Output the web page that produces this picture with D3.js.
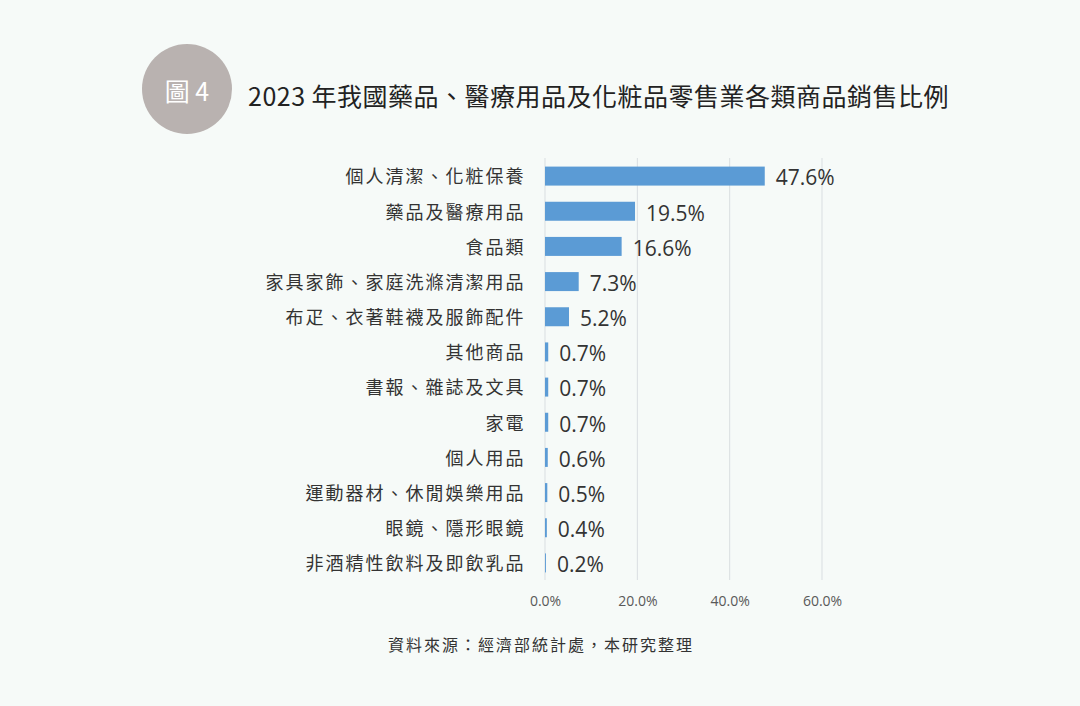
<!DOCTYPE html>
<html><head><meta charset="utf-8">
<script src="https://cdn.jsdelivr.net/npm/d3@7"></script>
<style>
html,body{margin:0;padding:0;background:#f6faf8;}
svg{display:block;}
</style></head>
<body>
<script>
const categories = ["個人清潔、化粧保養","藥品及醫療用品","食品類","家具家飾、家庭洗滌清潔用品","布疋、衣著鞋襪及服飾配件","其他商品","書報、雜誌及文具","家電","個人用品","運動器材、休閒娛樂用品","眼鏡、隱形眼鏡","非酒精性飲料及即飲乳品"];
const values = [47.6,19.5,16.6,7.3,5.2,0.7,0.7,0.7,0.6,0.5,0.4,0.2];
const xTicks = [0,20,40,60];
const titleText = "2023 年我國藥品、醫療用品及化粧品零售業各類商品銷售比例";
const badgeText = "圖 4";
const sourceText = "資料來源：經濟部統計處，本研究整理";

const W = 1080, H = 706;
const svg = d3.select("body").append("svg").attr("width", W).attr("height", H);
svg.append("rect").attr("width", W).attr("height", H).attr("fill", "#f6faf8");

const cjk = "'Noto Sans CJK TC','Noto Sans',sans-serif";
const latin = "'Open Sans','Noto Sans',sans-serif";

// badge
svg.append("circle").attr("cx", 187).attr("cy", 89).attr("r", 45).attr("fill", "#b9b2b0");
svg.append("text").attr("x", 187).attr("y", 101).attr("text-anchor", "middle")
  .attr("font-family", cjk).attr("font-size", 25).attr("fill", "#ffffff").text(badgeText);

// title
svg.append("text").attr("x", 248).attr("y", 106)
  .attr("font-family", cjk).attr("font-size", 25).attr("letter-spacing", 0.5)
  .attr("fill", "#222").text(titleText);

const x = d3.scaleLinear().domain([0, 60]).range([545, 822]);
const y = d3.scaleBand().domain(categories).range([158.5, 580.5]).paddingInner(0.46).paddingOuter(0.23);

// grid
svg.append("g").selectAll("line").data(xTicks).join("line")
  .attr("x1", d => x(d)).attr("x2", d => x(d))
  .attr("y1", 158).attr("y2", 580)
  .attr("stroke", "#d9dee1").attr("stroke-width", 1);

// bars
svg.append("g").selectAll("rect").data(values).join("rect")
  .attr("x", x(0)).attr("y", (d, i) => y(categories[i]))
  .attr("width", d => x(d) - x(0)).attr("height", y.bandwidth())
  .attr("fill", "#5b9bd5");

// category labels
svg.append("g").selectAll("text").data(categories).join("text")
  .attr("x", 525.5).attr("y", d => y(d) + y.bandwidth() / 2 + 1)
  .attr("dy", "0.35em").attr("text-anchor", "end")
  .attr("font-family", cjk).attr("font-size", 18).attr("letter-spacing", 2)
  .attr("fill", "#333")
  .text(d => d);

// value labels
svg.append("g").selectAll("text").data(values).join("text")
  .attr("x", d => x(d) + 11).attr("y", (d, i) => y(categories[i]) + y.bandwidth() / 2 + 2)
  .attr("dy", "0.35em")
  .attr("font-family", latin).attr("font-size", 21).attr("fill", "#333")
  .text(d => d.toFixed(1) + "%");

// x axis tick labels
const axis = d3.axisBottom(x).tickValues(xTicks).tickSize(0).tickFormat(d => d.toFixed(1) + "%");
const ax = svg.append("g").attr("transform", "translate(0,593)").call(axis);
ax.select(".domain").remove();
ax.selectAll("text").attr("font-family", latin).attr("font-size", 14).attr("fill", "#595959");

// source
svg.append("text").attr("x", 541).attr("y", 651).attr("text-anchor", "middle")
  .attr("font-family", cjk).attr("font-size", 16).attr("letter-spacing", 2)
  .attr("fill", "#333").text(sourceText);
</script>
</body></html>
